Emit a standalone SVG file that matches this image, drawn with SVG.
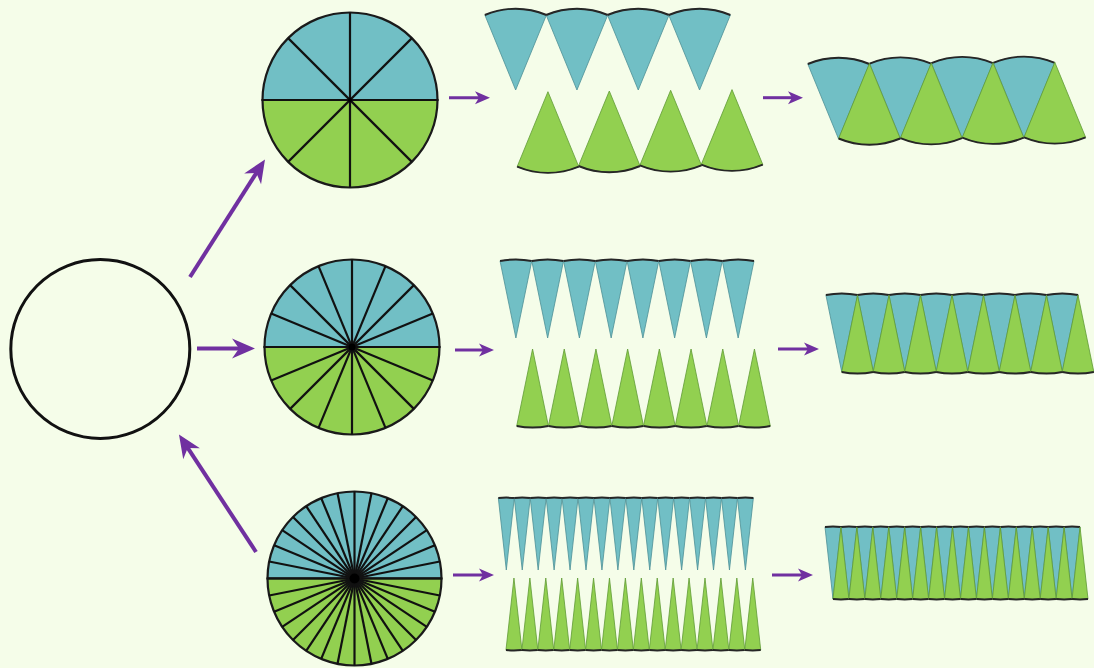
<svg xmlns="http://www.w3.org/2000/svg" xmlns:xlink="http://www.w3.org/1999/xlink" width="1094" height="668" viewBox="0 0 1094 668">
<style>
.bg{fill:#f5fde9}
.cb{fill:#71bfc5;stroke:#1a1a1a;stroke-width:2.2}
.cg{fill:#92d050;stroke:#1a1a1a;stroke-width:2.2}
.rad{stroke:#111;stroke-width:2.2;fill:none}
.sb{fill:#71bfc5;stroke:#4d8f95;stroke-width:0.8}
.sg{fill:#92d050;stroke:#5f9a35;stroke-width:0.8}
.arc{fill:none;stroke:#262626;stroke-width:2}
.big{stroke:#7030a0;stroke-width:4;fill:none}
.small{stroke:#7030a0;stroke-width:3;fill:none}
</style>
<defs>
<marker id="hb" markerUnits="userSpaceOnUse" markerWidth="32" markerHeight="26" viewBox="-13 -13 32 26" refX="0" refY="0" orient="auto">
<path d="M13,0 L-10,-10 L-3,0 L-10,10 Z" fill="#7030a0"/>
</marker>
<marker id="hs" markerUnits="userSpaceOnUse" markerWidth="22" markerHeight="16" viewBox="-8 -8 22 16" refX="0" refY="0" orient="auto">
<path d="M8,0 L-7,-6.5 L-3,0 L-7,6.5 Z" fill="#7030a0"/>
</marker>
<g id="b8"><path class="sb" d="M0,0 L-30.8,-75 A80.5,80.5 0 0 1 30.8,-75 Z"/><path class="arc" d="M-30.8,-75 A80.5,80.5 0 0 1 30.8,-75"/></g>
<g id="g8"><path class="sg" d="M0,0 L30.8,75 A80.5,80.5 0 0 1 -30.8,75 Z"/><path class="arc" d="M30.8,75 A80.5,80.5 0 0 1 -30.8,75"/></g>
<g id="b16"><path class="sb" d="M0,0 L-15.85,-77 A81.4,81.4 0 0 1 15.85,-77 Z"/><path class="arc" d="M-15.85,-77 A81.4,81.4 0 0 1 15.85,-77"/></g>
<g id="g16"><path class="sg" d="M0,0 L15.85,77 A81.4,81.4 0 0 1 -15.85,77 Z"/><path class="arc" d="M15.85,77 A81.4,81.4 0 0 1 -15.85,77"/></g>
<g id="b32"><path class="sb" d="M0,0 L-7.97,-72 A81.3,81.3 0 0 1 7.97,-72 Z"/><path class="arc" d="M-7.97,-72 A81.3,81.3 0 0 1 7.97,-72"/></g>
<g id="g32"><path class="sg" d="M0,0 L7.97,72 A81.3,81.3 0 0 1 -7.97,72 Z"/><path class="arc" d="M7.97,72 A81.3,81.3 0 0 1 -7.97,72"/></g>
</defs>
<rect class="bg" x="0" y="0" width="1094" height="668"/>

<g id="circle-whole">
<circle cx="100.3" cy="349" r="89.5" fill="none" stroke="#111" stroke-width="3"/>
</g>

<g id="circle-8" transform="translate(350,100)">
<path class="cb" d="M-87.5,0 A87.5,87.5 0 0 1 87.5,0 Z"/>
<path class="cg" d="M-87.5,0 A87.5,87.5 0 0 0 87.5,0 Z"/>
<g class="rad">
<line x1="-87.5" y1="0" x2="87.5" y2="0"/>
<line x1="-87.5" y1="0" x2="87.5" y2="0" transform="rotate(45)"/>
<line x1="-87.5" y1="0" x2="87.5" y2="0" transform="rotate(90)"/>
<line x1="-87.5" y1="0" x2="87.5" y2="0" transform="rotate(135)"/>
</g>
<circle r="2" fill="#000"/>
</g>

<g id="circle-16" transform="translate(352,347)">
<path class="cb" d="M-87.5,0 A87.5,87.5 0 0 1 87.5,0 Z"/>
<path class="cg" d="M-87.5,0 A87.5,87.5 0 0 0 87.5,0 Z"/>
<g class="rad">
<line x1="-87.5" y1="0" x2="87.5" y2="0"/>
<line x1="-87.5" y1="0" x2="87.5" y2="0" transform="rotate(22.5)"/>
<line x1="-87.5" y1="0" x2="87.5" y2="0" transform="rotate(45)"/>
<line x1="-87.5" y1="0" x2="87.5" y2="0" transform="rotate(67.5)"/>
<line x1="-87.5" y1="0" x2="87.5" y2="0" transform="rotate(90)"/>
<line x1="-87.5" y1="0" x2="87.5" y2="0" transform="rotate(112.5)"/>
<line x1="-87.5" y1="0" x2="87.5" y2="0" transform="rotate(135)"/>
<line x1="-87.5" y1="0" x2="87.5" y2="0" transform="rotate(157.5)"/>
</g>
<circle r="3.5" fill="#000"/>
</g>

<g id="circle-32" transform="translate(354.5,578.5)">
<path class="cb" d="M-87,0 A87,87 0 0 1 87,0 Z"/>
<path class="cg" d="M-87,0 A87,87 0 0 0 87,0 Z"/>
<g class="rad">
<line x1="-87" y1="0" x2="87" y2="0"/>
<line x1="-87" y1="0" x2="87" y2="0" transform="rotate(11.25)"/>
<line x1="-87" y1="0" x2="87" y2="0" transform="rotate(22.5)"/>
<line x1="-87" y1="0" x2="87" y2="0" transform="rotate(33.75)"/>
<line x1="-87" y1="0" x2="87" y2="0" transform="rotate(45)"/>
<line x1="-87" y1="0" x2="87" y2="0" transform="rotate(56.25)"/>
<line x1="-87" y1="0" x2="87" y2="0" transform="rotate(67.5)"/>
<line x1="-87" y1="0" x2="87" y2="0" transform="rotate(78.75)"/>
<line x1="-87" y1="0" x2="87" y2="0" transform="rotate(90)"/>
<line x1="-87" y1="0" x2="87" y2="0" transform="rotate(101.25)"/>
<line x1="-87" y1="0" x2="87" y2="0" transform="rotate(112.5)"/>
<line x1="-87" y1="0" x2="87" y2="0" transform="rotate(123.75)"/>
<line x1="-87" y1="0" x2="87" y2="0" transform="rotate(135)"/>
<line x1="-87" y1="0" x2="87" y2="0" transform="rotate(146.25)"/>
<line x1="-87" y1="0" x2="87" y2="0" transform="rotate(157.5)"/>
<line x1="-87" y1="0" x2="87" y2="0" transform="rotate(168.75)"/>
</g>
<circle r="5" fill="#000"/>
</g>

<g id="split-8">
<use xlink:href="#b8" href="#b8" x="515.65" y="90"/>
<use xlink:href="#b8" href="#b8" x="576.95" y="90"/>
<use xlink:href="#b8" href="#b8" x="638.25" y="90"/>
<use xlink:href="#b8" href="#b8" x="699.55" y="90"/>
<use xlink:href="#g8" href="#g8" x="547.95" y="91.7"/>
<use xlink:href="#g8" href="#g8" x="609.3" y="91"/>
<use xlink:href="#g8" href="#g8" x="670.65" y="90.3"/>
<use xlink:href="#g8" href="#g8" x="732" y="89.6"/>
</g>

<g id="joined-8">
<use xlink:href="#b8" href="#b8" x="838.6" y="139"/>
<use xlink:href="#b8" href="#b8" x="900.4" y="138.6"/>
<use xlink:href="#b8" href="#b8" x="962.2" y="138.2"/>
<use xlink:href="#b8" href="#b8" x="1024" y="137.8"/>
<use xlink:href="#g8" href="#g8" x="869.4" y="63.5"/>
<use xlink:href="#g8" href="#g8" x="931.2" y="63.1"/>
<use xlink:href="#g8" href="#g8" x="993" y="62.7"/>
<use xlink:href="#g8" href="#g8" x="1054.8" y="62.3"/>
</g>

<g id="split-16">
<use xlink:href="#b16" href="#b16" x="515.9" y="338"/>
<use xlink:href="#b16" href="#b16" x="547.65" y="338"/>
<use xlink:href="#b16" href="#b16" x="579.4" y="338"/>
<use xlink:href="#b16" href="#b16" x="611.15" y="338"/>
<use xlink:href="#b16" href="#b16" x="642.9" y="338"/>
<use xlink:href="#b16" href="#b16" x="674.65" y="338"/>
<use xlink:href="#b16" href="#b16" x="706.4" y="338"/>
<use xlink:href="#b16" href="#b16" x="738.15" y="338"/>
<use xlink:href="#g16" href="#g16" x="532.55" y="349"/>
<use xlink:href="#g16" href="#g16" x="564.25" y="349"/>
<use xlink:href="#g16" href="#g16" x="595.95" y="349"/>
<use xlink:href="#g16" href="#g16" x="627.65" y="349"/>
<use xlink:href="#g16" href="#g16" x="659.35" y="349"/>
<use xlink:href="#g16" href="#g16" x="691.05" y="349"/>
<use xlink:href="#g16" href="#g16" x="722.75" y="349"/>
<use xlink:href="#g16" href="#g16" x="754.45" y="349"/>
</g>

<g id="joined-16">
<use xlink:href="#b16" href="#b16" x="841.75" y="372"/>
<use xlink:href="#b16" href="#b16" x="873.25" y="372"/>
<use xlink:href="#b16" href="#b16" x="904.75" y="372"/>
<use xlink:href="#b16" href="#b16" x="936.25" y="372"/>
<use xlink:href="#b16" href="#b16" x="967.75" y="372"/>
<use xlink:href="#b16" href="#b16" x="999.25" y="372"/>
<use xlink:href="#b16" href="#b16" x="1030.75" y="372"/>
<use xlink:href="#b16" href="#b16" x="1062.25" y="372"/>
<use xlink:href="#g16" href="#g16" x="857.5" y="295"/>
<use xlink:href="#g16" href="#g16" x="889" y="295"/>
<use xlink:href="#g16" href="#g16" x="920.5" y="295"/>
<use xlink:href="#g16" href="#g16" x="952" y="295"/>
<use xlink:href="#g16" href="#g16" x="983.5" y="295"/>
<use xlink:href="#g16" href="#g16" x="1015" y="295"/>
<use xlink:href="#g16" href="#g16" x="1046.5" y="295"/>
<use xlink:href="#g16" href="#g16" x="1078" y="295"/>
</g>

<g id="split-32">
<use xlink:href="#b32" href="#b32" x="506.3" y="570"/>
<use xlink:href="#b32" href="#b32" x="522.24" y="570"/>
<use xlink:href="#b32" href="#b32" x="538.18" y="570"/>
<use xlink:href="#b32" href="#b32" x="554.12" y="570"/>
<use xlink:href="#b32" href="#b32" x="570.06" y="570"/>
<use xlink:href="#b32" href="#b32" x="586" y="570"/>
<use xlink:href="#b32" href="#b32" x="601.94" y="570"/>
<use xlink:href="#b32" href="#b32" x="617.88" y="570"/>
<use xlink:href="#b32" href="#b32" x="633.82" y="570"/>
<use xlink:href="#b32" href="#b32" x="649.76" y="570"/>
<use xlink:href="#b32" href="#b32" x="665.7" y="570"/>
<use xlink:href="#b32" href="#b32" x="681.64" y="570"/>
<use xlink:href="#b32" href="#b32" x="697.58" y="570"/>
<use xlink:href="#b32" href="#b32" x="713.52" y="570"/>
<use xlink:href="#b32" href="#b32" x="729.46" y="570"/>
<use xlink:href="#b32" href="#b32" x="745.4" y="570"/>
<use xlink:href="#g32" href="#g32" x="513.95" y="578"/>
<use xlink:href="#g32" href="#g32" x="529.87" y="578"/>
<use xlink:href="#g32" href="#g32" x="545.79" y="578"/>
<use xlink:href="#g32" href="#g32" x="561.71" y="578"/>
<use xlink:href="#g32" href="#g32" x="577.63" y="578"/>
<use xlink:href="#g32" href="#g32" x="593.55" y="578"/>
<use xlink:href="#g32" href="#g32" x="609.47" y="578"/>
<use xlink:href="#g32" href="#g32" x="625.39" y="578"/>
<use xlink:href="#g32" href="#g32" x="641.31" y="578"/>
<use xlink:href="#g32" href="#g32" x="657.23" y="578"/>
<use xlink:href="#g32" href="#g32" x="673.15" y="578"/>
<use xlink:href="#g32" href="#g32" x="689.07" y="578"/>
<use xlink:href="#g32" href="#g32" x="704.99" y="578"/>
<use xlink:href="#g32" href="#g32" x="720.91" y="578"/>
<use xlink:href="#g32" href="#g32" x="736.83" y="578"/>
<use xlink:href="#g32" href="#g32" x="752.75" y="578"/>
</g>

<g id="joined-32">
<use xlink:href="#b32" href="#b32" x="832.97" y="599"/>
<use xlink:href="#b32" href="#b32" x="848.91" y="599"/>
<use xlink:href="#b32" href="#b32" x="864.85" y="599"/>
<use xlink:href="#b32" href="#b32" x="880.79" y="599"/>
<use xlink:href="#b32" href="#b32" x="896.73" y="599"/>
<use xlink:href="#b32" href="#b32" x="912.67" y="599"/>
<use xlink:href="#b32" href="#b32" x="928.61" y="599"/>
<use xlink:href="#b32" href="#b32" x="944.55" y="599"/>
<use xlink:href="#b32" href="#b32" x="960.49" y="599"/>
<use xlink:href="#b32" href="#b32" x="976.43" y="599"/>
<use xlink:href="#b32" href="#b32" x="992.37" y="599"/>
<use xlink:href="#b32" href="#b32" x="1008.31" y="599"/>
<use xlink:href="#b32" href="#b32" x="1024.25" y="599"/>
<use xlink:href="#b32" href="#b32" x="1040.19" y="599"/>
<use xlink:href="#b32" href="#b32" x="1056.13" y="599"/>
<use xlink:href="#b32" href="#b32" x="1072.07" y="599"/>
<use xlink:href="#g32" href="#g32" x="840.94" y="527"/>
<use xlink:href="#g32" href="#g32" x="856.88" y="527"/>
<use xlink:href="#g32" href="#g32" x="872.82" y="527"/>
<use xlink:href="#g32" href="#g32" x="888.76" y="527"/>
<use xlink:href="#g32" href="#g32" x="904.7" y="527"/>
<use xlink:href="#g32" href="#g32" x="920.64" y="527"/>
<use xlink:href="#g32" href="#g32" x="936.58" y="527"/>
<use xlink:href="#g32" href="#g32" x="952.52" y="527"/>
<use xlink:href="#g32" href="#g32" x="968.46" y="527"/>
<use xlink:href="#g32" href="#g32" x="984.4" y="527"/>
<use xlink:href="#g32" href="#g32" x="1000.34" y="527"/>
<use xlink:href="#g32" href="#g32" x="1016.28" y="527"/>
<use xlink:href="#g32" href="#g32" x="1032.22" y="527"/>
<use xlink:href="#g32" href="#g32" x="1048.16" y="527"/>
<use xlink:href="#g32" href="#g32" x="1064.1" y="527"/>
<use xlink:href="#g32" href="#g32" x="1080.04" y="527"/>
</g>

<g id="connectors">
<line class="big" x1="190" y1="277" x2="258" y2="170.4" marker-end="url(#hb)"/>
<line class="big" x1="197" y1="348.5" x2="242" y2="348.5" marker-end="url(#hb)"/>
<line class="big" x1="256" y1="552" x2="186.1" y2="445.4" marker-end="url(#hb)"/>
<line class="small" x1="449" y1="97.7" x2="482" y2="97.7" marker-end="url(#hs)"/>
<line class="small" x1="763" y1="97.7" x2="795" y2="97.7" marker-end="url(#hs)"/>
<line class="small" x1="455" y1="350" x2="486" y2="350" marker-end="url(#hs)"/>
<line class="small" x1="778" y1="349" x2="811" y2="349" marker-end="url(#hs)"/>
<line class="small" x1="453" y1="575" x2="486" y2="575" marker-end="url(#hs)"/>
<line class="small" x1="772" y1="575" x2="805" y2="575" marker-end="url(#hs)"/>
</g>
</svg>
